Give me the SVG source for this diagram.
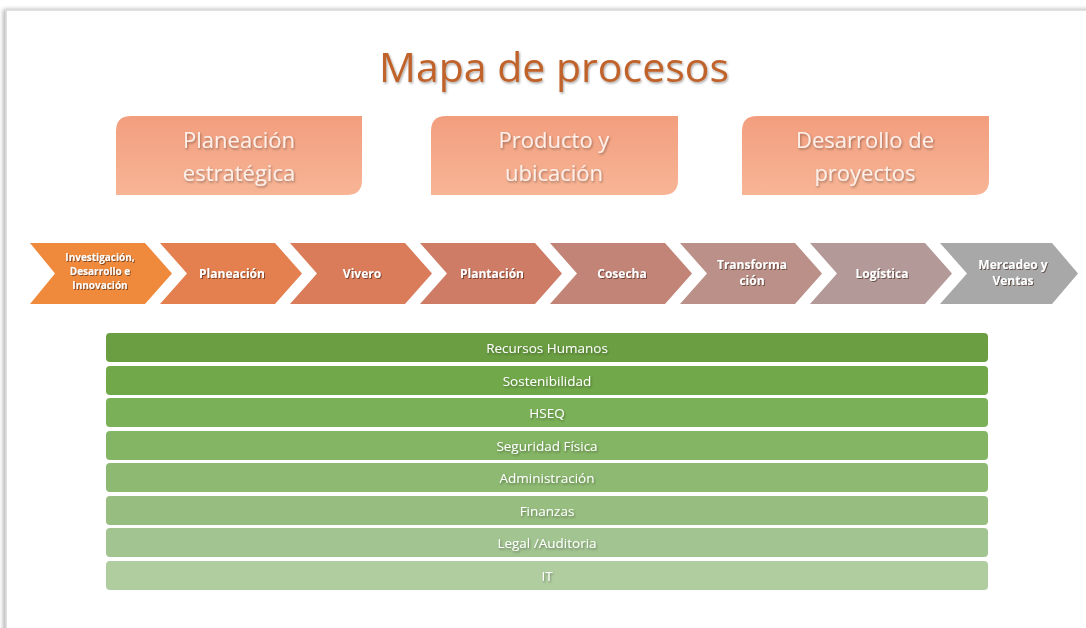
<svg xmlns="http://www.w3.org/2000/svg" width="1086" height="628" viewBox="0 0 1086 628">
<defs>
<filter id="ts" x="-10%" y="-30%" width="120%" height="160%">
<feDropShadow dx="1" dy="1.5" stdDeviation="0.8" flood-color="#000" flood-opacity="0.35"/>
</filter>
<filter id="ts2" x="-10%" y="-30%" width="120%" height="160%">
<feDropShadow dx="1" dy="1" stdDeviation="0.6" flood-color="#3a1a0a" flood-opacity="0.6"/>
</filter>
<filter id="fs" x="-5%" y="-5%" width="110%" height="110%">
<feDropShadow dx="-2" dy="0" stdDeviation="2" flood-color="#000" flood-opacity="0.3"/>
</filter>
<linearGradient id="sal" x1="0" y1="0" x2="0" y2="1">
<stop offset="0" stop-color="#F29E7E"/>
<stop offset="1" stop-color="#F7B596"/>
</linearGradient>
<style>
.title{font-family:"Open Sans","Noto Sans",sans-serif;font-size:41px;fill:#C0632C;text-anchor:middle}
.top{font-family:"Open Sans","Noto Sans",sans-serif;font-size:22px;fill:#FDF0EA;text-anchor:middle}
.chev{font-family:"Open Sans","Noto Sans",sans-serif;font-size:12px;font-weight:bold;fill:#FFFFFF;text-anchor:middle}
.chevs{font-family:"Open Sans","Noto Sans",sans-serif;font-size:10px;font-weight:bold;fill:#FFFFFF;text-anchor:middle}
.bar{font-family:"Open Sans","Noto Sans",sans-serif;font-size:13.5px;fill:#FFFFFF;text-anchor:middle}
</style>
</defs>
<rect width="1086" height="628" fill="#FFFFFF"/>
<g id="frame">
<rect x="6" y="10" width="1090" height="630" fill="#FFFFFF" stroke="#D6D6D6" stroke-width="1.5" filter="url(#fs)"/>
</g>
<g id="title">
<text class="title" x="554" y="82" filter="url(#ts)">Mapa de procesos</text>
</g>
<g id="strategic">
<g id="box-planeacion-estrategica">
<path d="M131,116 H362 V180 Q362,195 347,195 H116 V131 Q116,116 131,116 Z" fill="url(#sal)"/>
<text class="top" x="239" y="148" filter="url(#ts)">Planeación</text>
<text class="top" x="239" y="181" filter="url(#ts)">estratégica</text>
</g>
<g id="box-producto">
<path d="M446,116 H678 V180 Q678,195 663,195 H431 V131 Q431,116 446,116 Z" fill="url(#sal)"/>
<text class="top" x="554" y="148" filter="url(#ts)">Producto y</text>
<text class="top" x="554" y="181" filter="url(#ts)">ubicación</text>
</g>
<g id="box-desarrollo">
<path d="M757,116 H989 V180 Q989,195 974,195 H742 V131 Q742,116 757,116 Z" fill="url(#sal)"/>
<text class="top" x="865" y="148" filter="url(#ts)">Desarrollo de</text>
<text class="top" x="865" y="181" filter="url(#ts)">proyectos</text>
</g>
</g>
<g id="chain">
<g id="chev-1">
<polygon points="30,243 145,243 172,273.5 145,304 30,304 55,273.5" fill="#EF8A3D"/>
<text class="chevs" x="100" y="261" filter="url(#ts2)">Investigación,</text>
<text class="chevs" x="100" y="275" filter="url(#ts2)">Desarrollo e</text>
<text class="chevs" x="100" y="289" filter="url(#ts2)">Innovación</text>
</g>
<g id="chev-2">
<polygon points="160,243 275,243 302,273.5 275,304 160,304 187,273.5" fill="#E4804F"/>
<text class="chev" x="232" y="277.5" filter="url(#ts2)">Planeación</text>
</g>
<g id="chev-3">
<polygon points="290,243 405,243 432,273.5 405,304 290,304 317,273.5" fill="#DA7C5A"/>
<text class="chev" x="362" y="277.5" filter="url(#ts2)">Vivero</text>
</g>
<g id="chev-4">
<polygon points="420,243 535,243 562,273.5 535,304 420,304 447,273.5" fill="#CF7C67"/>
<text class="chev" x="492" y="277.5" filter="url(#ts2)">Plantación</text>
</g>
<g id="chev-5">
<polygon points="550,243 665,243 692,273.5 665,304 550,304 577,273.5" fill="#C28477"/>
<text class="chev" x="622" y="277.5" filter="url(#ts2)">Cosecha</text>
</g>
<g id="chev-6">
<polygon points="680,243 795,243 822,273.5 795,304 680,304 707,273.5" fill="#BA9088"/>
<text class="chev" x="752" y="269" filter="url(#ts2)">Transforma</text>
<text class="chev" x="752" y="285" filter="url(#ts2)">ción</text>
</g>
<g id="chev-7">
<polygon points="810,243 925,243 952,273.5 925,304 810,304 837,273.5" fill="#B39A99"/>
<text class="chev" x="882" y="277.5" filter="url(#ts2)">Logística</text>
</g>
<g id="chev-8">
<polygon points="940,243 1052,243 1078,273.5 1052,304 940,304 967,273.5" fill="#A8A8A8"/>
<text class="chev" x="1013" y="269" filter="url(#ts2)">Mercadeo y</text>
<text class="chev" x="1013" y="285" filter="url(#ts2)">Ventas</text>
</g>
</g>
<g id="support">
<g id="bar-rrhh"><rect x="106" y="333" width="882" height="29" rx="4" fill="#6B9E42"/><text class="bar" x="547" y="352.5" filter="url(#ts)">Recursos Humanos</text></g>
<g id="bar-sost"><rect x="106" y="366" width="882" height="29" rx="4" fill="#71A84A"/><text class="bar" x="547" y="385.5" filter="url(#ts)">Sostenibilidad</text></g>
<g id="bar-hseq"><rect x="106" y="398" width="882" height="29" rx="4" fill="#7AB058"/><text class="bar" x="547" y="417.5" filter="url(#ts)">HSEQ</text></g>
<g id="bar-seg"><rect x="106" y="431" width="882" height="29" rx="4" fill="#84B565"/><text class="bar" x="547" y="450.5" filter="url(#ts)">Seguridad Física</text></g>
<g id="bar-adm"><rect x="106" y="463" width="882" height="29" rx="4" fill="#8DB972"/><text class="bar" x="547" y="482.5" filter="url(#ts)">Administración</text></g>
<g id="bar-fin"><rect x="106" y="496" width="882" height="29" rx="4" fill="#97BE80"/><text class="bar" x="547" y="515.5" filter="url(#ts)">Finanzas</text></g>
<g id="bar-legal"><rect x="106" y="528" width="882" height="29" rx="4" fill="#A2C491"/><text class="bar" x="547" y="547.5" filter="url(#ts)">Legal /Auditoria</text></g>
<g id="bar-it"><rect x="106" y="561" width="882" height="29" rx="4" fill="#B0CDA0"/><text class="bar" x="547" y="580.5" filter="url(#ts)">IT</text></g>
</g>
</svg>
